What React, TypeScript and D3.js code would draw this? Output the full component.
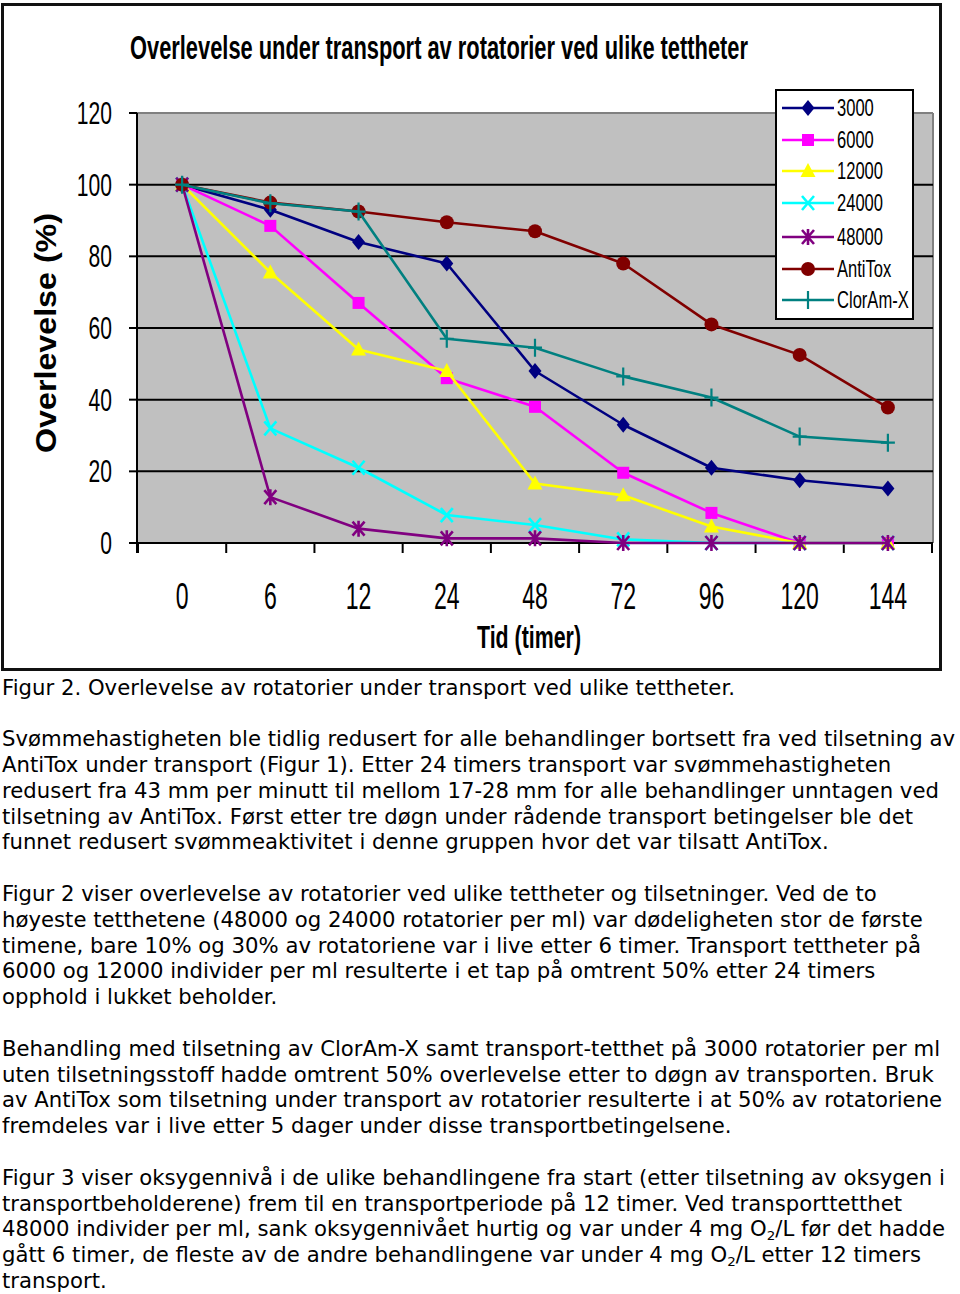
import React from "react";
import * as d3 from "d3";

const categories = ["0", "6", "12", "24", "48", "72", "96", "120", "144"];
const yTicks = [0, 20, 40, 60, 80, 100, 120];
const seriesNames = ["3000", "6000", "12000", "24000", "48000", "AntiTox", "ClorAm-X"];
const s3000 = [100, 93, 84, 78, 48, 33, 21, 17.5, 15.2];
const s6000 = [100, 88.5, 67, 46, 38, 19.6, 8.4, 0, 0];
const s12000 = [100, 75.5, 54, 48, 16.6, 13.3, 4.6, 0, 0];
const s24000 = [100, 32, 21, 7.8, 5, 1, 0, 0, 0];
const s48000 = [100, 12.8, 4, 1.3, 1.3, 0, 0, 0, 0];
const sAntiTox = [100, 95, 92.5, 89.5, 87, 78, 61, 52.5, 37.8];
const sClorAm = [100, 94.8, 92.5, 57, 54.5, 46.5, 40.6, 29.7, 28];
const seriesValues = [s3000, s6000, s12000, s24000, s48000, sAntiTox, sClorAm];
const seriesColors = ["#000080", "#FF00FF", "#FFFF00", "#00FFFF", "#800080", "#800000", "#008080"];
const seriesMarkers = ["diamond", "square", "triangle", "x", "asterisk", "circle", "plus"];

const title = "Overlevelse under transport av rotatorier ved ulike tettheter";
const xTitle = "Tid (timer)";
const yTitle = "Overlevelse (%)";

// Paragraph text lines; null = blank line. Segments with sub:true are subscripts.
type Seg = { t: string; sub?: boolean };
const textLines: (Seg[] | null)[] = [
  [{ t: "Figur 2. Overlevelse av rotatorier under transport ved ulike tettheter." }],
  null,
  [{ t: "Svømmehastigheten ble tidlig redusert for alle behandlinger bortsett fra ved tilsetning av" }],
  [{ t: "AntiTox under transport (Figur 1). Etter 24 timers transport var svømmehastigheten" }],
  [{ t: "redusert fra 43 mm per minutt til mellom 17-28 mm for alle behandlinger unntagen ved" }],
  [{ t: "tilsetning av AntiTox. Først etter tre døgn under rådende transport betingelser ble det" }],
  [{ t: "funnet redusert svømmeaktivitet i denne gruppen hvor det var tilsatt AntiTox." }],
  null,
  [{ t: "Figur 2 viser overlevelse av rotatorier ved ulike tettheter og tilsetninger. Ved de to" }],
  [{ t: "høyeste tetthetene (48000 og 24000 rotatorier per ml) var dødeligheten stor de første" }],
  [{ t: "timene, bare 10% og 30% av rotatoriene var i live etter 6 timer. Transport tettheter på" }],
  [{ t: "6000 og 12000 individer per ml resulterte i et tap på omtrent 50% etter 24 timers" }],
  [{ t: "opphold i lukket beholder." }],
  null,
  [{ t: "Behandling med tilsetning av ClorAm-X samt transport-tetthet på 3000 rotatorier per ml" }],
  [{ t: "uten tilsetningsstoff hadde omtrent 50% overlevelse etter to døgn av transporten. Bruk" }],
  [{ t: "av AntiTox som tilsetning under transport av rotatorier resulterte i at 50% av rotatoriene" }],
  [{ t: "fremdeles var i live etter 5 dager under disse transportbetingelsene." }],
  null,
  [{ t: "Figur 3 viser oksygennivå i de ulike behandlingene fra start (etter tilsetning av oksygen i" }],
  [{ t: "transportbeholderene) frem til en transportperiode på 12 timer. Ved transporttetthet" }],
  [{ t: "48000 individer per ml, sank oksygennivået hurtig og var under 4 mg O" }, { t: "2", sub: true }, { t: "/L før det hadde" }],
  [{ t: "gått 6 timer, de fleste av de andre behandlingene var under 4 mg O" }, { t: "2", sub: true }, { t: "/L etter 12 timers" }],
  [{ t: "transport." }],
];

const CHART_FONT = "'Liberation Sans', Arial, sans-serif";
const BODY_FONT = "'DejaVu Sans', Verdana, sans-serif";

function Marker({ type, color, x, y }: { type: string; color: string; x: number; y: number }) {
  const t = `translate(${x},${y})`;
  switch (type) {
    case "diamond":
      return <path transform={t} d="M0,-8L6.5,0L0,8L-6.5,0Z" fill={color} />;
    case "square":
      return <rect transform={t} x={-6} y={-6} width={12} height={12} fill={color} />;
    case "triangle":
      return <path transform={t} d="M0,-8L7.5,6L-7.5,6Z" fill={color} />;
    case "circle":
      return <circle transform={t} r={7} fill={color} />;
    case "x":
      return <path transform={t} d="M-6,-7L6,7M6,-7L-6,7" stroke={color} strokeWidth={2.6} fill="none" />;
    case "asterisk":
      return <path transform={t} d="M-6,-7L6,7M6,-7L-6,7M0,-8L0,8" stroke={color} strokeWidth={2.6} fill="none" />;
    case "plus":
      return <path transform={t} d="M-7,0L7,0M0,-9L0,9" stroke={color} strokeWidth={2.2} fill="none" />;
    default:
      return null;
  }
}

export default function App() {
  const W = 960;
  const H = 1294;
  const plotL = 137;
  const plotR = 933;
  const plotT = 113;
  const plotB = 543;

  const x = d3.scaleBand<string>().domain(categories).range([138, 932]).padding(0);
  const y = d3.scaleLinear().domain([0, 120]).range([plotB, plotT]);
  const cx = (c: string) => (x(c) as number) + x.bandwidth() / 2;

  const line = d3
    .line<number>()
    .x((_, i) => cx(categories[i]))
    .y((v) => y(v));

  const xBoundaries = categories.map((c) => x(c) as number).concat([(x(categories[categories.length - 1]) as number) + x.bandwidth()]);

  const legendX = 776;
  const legendY = 90;
  const legendW = 137;
  const legendH = 229;
  const legendRows = [108, 140, 171, 203, 237, 269, 300];

  const lineY0 = 694.5;
  const linePitch = 25.8;

  return (
    <svg width={W} height={H} style={{ position: "absolute", left: 0, top: 0, background: "#fff" }}>
      <rect x={0} y={0} width={W} height={H} fill="#fff" />
      {/* outer chart frame */}
      <rect x={2.5} y={4.5} width={938} height={665} fill="#fff" stroke="#111" strokeWidth={3} />

      {/* title */}
      <text x={130} y={59} fontFamily={CHART_FONT} fontWeight="bold" fontSize={33} textLength={618} lengthAdjust="spacingAndGlyphs" fill="#000">
        {title}
      </text>

      {/* plot area */}
      <rect x={plotL} y={plotT} width={plotR - plotL} height={plotB - plotT} fill="#C0C0C0" />
      <line x1={plotL} x2={plotR} y1={plotT} y2={plotT} stroke="#808080" strokeWidth={2} />
      <line x1={plotR} x2={plotR} y1={plotT} y2={plotB} stroke="#808080" strokeWidth={2} />

      {/* gridlines */}
      {yTicks.filter((v) => v > 0 && v < 120).map((v) => (
        <line key={v} x1={plotL} x2={plotR} y1={y(v)} y2={y(v)} stroke="#000" strokeWidth={2} />
      ))}

      {/* axes */}
      <line x1={plotL} x2={plotL} y1={plotT} y2={plotB + 10} stroke="#000" strokeWidth={2} />
      <line x1={plotL - 8} x2={plotR} y1={plotB} y2={plotB} stroke="#000" strokeWidth={2} />
      {yTicks.map((v) => (
        <line key={"yt" + v} x1={plotL - 8} x2={plotL} y1={y(v)} y2={y(v)} stroke="#000" strokeWidth={2} />
      ))}
      {xBoundaries.map((b, i) => (
        <line key={"xt" + i} x1={b} x2={b} y1={plotB} y2={plotB + 10} stroke="#000" strokeWidth={2} />
      ))}

      {/* y tick labels */}
      {yTicks.map((v) => (
        <text
          key={"yl" + v}
          transform={`translate(112,${y(v) + 11}) scale(0.68,1)`}
          textAnchor="end"
          fontFamily={CHART_FONT}
          fontSize={31}
          fill="#000"
        >
          {v}
        </text>
      ))}

      {/* x tick labels */}
      {categories.map((c) => (
        <text
          key={"xl" + c}
          transform={`translate(${cx(c)},${609}) scale(0.64,1)`}
          textAnchor="middle"
          fontFamily={CHART_FONT}
          fontSize={36}
          fill="#000"
        >
          {c}
        </text>
      ))}

      {/* axis titles */}
      <text x={477} y={648} fontFamily={CHART_FONT} fontWeight="bold" fontSize={32} textLength={104} lengthAdjust="spacingAndGlyphs" fill="#000">
        {xTitle}
      </text>
      <text
        transform={`translate(56,453) rotate(-90)`}
        fontFamily={CHART_FONT}
        fontWeight="bold"
        fontSize={30}
        textLength={240}
        lengthAdjust="spacingAndGlyphs"
        fill="#000"
      >
        {yTitle}
      </text>

      {/* series */}
      {seriesValues.map((vals, si) => (
        <g key={"s" + si}>
          <path d={line(vals) || ""} fill="none" stroke={seriesColors[si]} strokeWidth={2.6} strokeLinejoin="round" />
          {vals.map((v, i) => (
            <Marker key={i} type={seriesMarkers[si]} color={seriesColors[si]} x={cx(categories[i])} y={y(v)} />
          ))}
        </g>
      ))}

      {/* legend */}
      <rect x={legendX} y={legendY} width={legendW} height={legendH} fill="#fff" stroke="#000" strokeWidth={2} />
      {seriesNames.map((n, i) => (
        <g key={"lg" + i}>
          <line x1={782} x2={834} y1={legendRows[i]} y2={legendRows[i]} stroke={seriesColors[i]} strokeWidth={2.6} />
          <Marker type={seriesMarkers[i]} color={seriesColors[i]} x={808} y={legendRows[i]} />
          <text
            transform={`translate(837,${legendRows[i] + 8}) scale(0.72,1)`}
            fontFamily={CHART_FONT}
            fontSize={23}
            fill="#000"
          >
            {n}
          </text>
        </g>
      ))}

      {/* body text */}
      {textLines.map((segs, k) =>
        segs ? (
          <text
            key={"tl" + k}
            transform={`translate(2,${lineY0 + linePitch * k}) scale(1.035,1)`}
            fontFamily={BODY_FONT}
            fontSize={20.5}
            fill="#000"
          >
            {segs.map((s, j) =>
              s.sub ? (
                <tspan key={j} fontSize={13} dy={4}>
                  {s.t}
                </tspan>
              ) : (
                <tspan key={j} dy={j > 0 && segs[j - 1].sub ? -4 : 0}>
                  {s.t}
                </tspan>
              )
            )}
          </text>
        ) : null
      )}
    </svg>
  );
}
